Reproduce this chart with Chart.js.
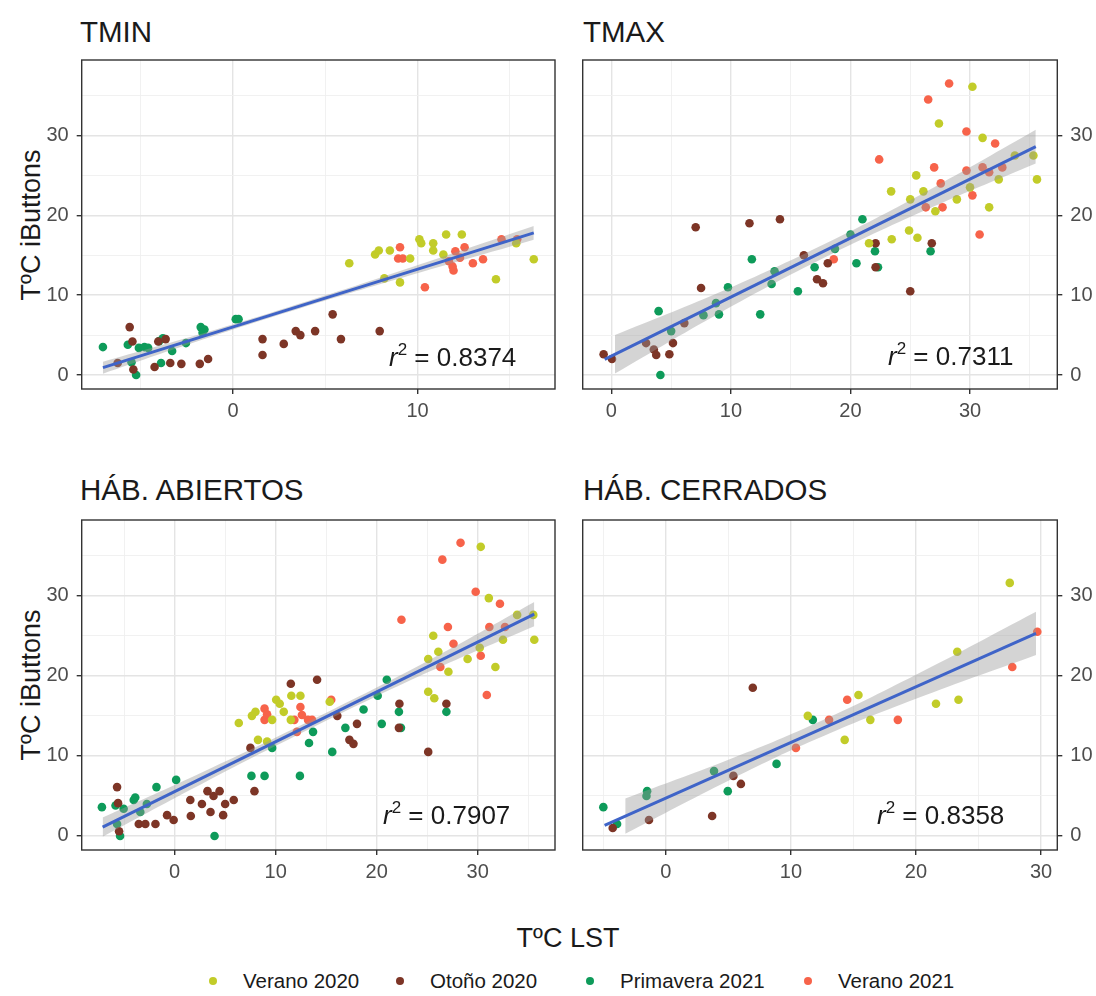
<!DOCTYPE html>
<html>
<head>
<meta charset="utf-8">
<script src="https://cdn.jsdelivr.net/npm/chart.js@4.4.1/dist/chart.umd.min.js"></script>
<style>
  body { margin: 0; background: #fff; }
  #page { position: relative; width: 1096px; height: 996px; overflow: hidden; font-family: "Liberation Sans", Arial, sans-serif; color: #1a1a1a; }
  canvas { position: absolute; }
  .txt { position: absolute; white-space: nowrap; line-height: 1; }
  .ytitle { position: absolute; white-space: nowrap; line-height: 1; font-size: 27px; transform: translate(-50%, -50%) rotate(-90deg); }
  .dot { position: absolute; width: 8px; height: 8px; border-radius: 50%; }
</style>
</head>
<body>
<div id="page">
  <div class="txt" style="left:80px; top:17px; font-size:29.5px;">TMIN</div>
  <div class="txt" style="left:583px; top:17px; font-size:29.5px;">TMAX</div>
  <div class="txt" style="left:80px; top:475px; font-size:29.5px;">HÁB. ABIERTOS</div>
  <div class="txt" style="left:583px; top:475px; font-size:29.5px;">HÁB. CERRADOS</div>

  <div class="ytitle" style="left:31px; top:225px;">TºC iButtons</div>
  <div class="ytitle" style="left:31px; top:685px;">TºC iButtons</div>

  <canvas id="tmin"></canvas>
  <canvas id="tmax"></canvas>
  <canvas id="abiertos"></canvas>
  <canvas id="cerrados"></canvas>

  <div class="txt" id="r2-tmin" style="left:389px; top:344px; font-size:26px;"></div>
  <div class="txt" id="r2-tmax" style="left:888px; top:343px; font-size:26px;"></div>
  <div class="txt" id="r2-abiertos" style="left:383px; top:802px; font-size:26px;"></div>
  <div class="txt" id="r2-cerrados" style="left:877px; top:802px; font-size:26px;"></div>

  <div class="txt" style="left:568px; top:925px; font-size:27px; transform:translateX(-50%);">TºC LST</div>
  <div id="legend"></div>
</div>
<script>
const seasons = ["Verano 2020", "Otoño 2020", "Primavera 2021", "Verano 2021"];
const seasonColors = ["#c2cc29", "#7d3526", "#0e9b5a", "#f7634a"];
const r2Labels = ["0.8374", "0.7311", "0.7907", "0.8358"];

// TMIN
const tminVerano2020 = [[6.3,14.0],[7.7,15.1],[7.9,15.6],[8.5,15.6],[8.2,12.1],[9.05,11.6],[9.6,14.6],[10.1,17.0],[10.2,16.5],[10.85,16.5],[10.85,15.6],[11.4,15.1],[11.55,17.6],[12.4,17.6],[14.25,12.0],[15.35,16.5],[16.3,14.5]];
const tminOtono2020 = [[-5.6,6.0],[-5.45,4.2],[-6.25,1.5],[-5.4,0.7],[-4.25,1.0],[-4.05,4.2],[-3.65,4.5],[-3.4,1.5],[-2.8,1.4],[-1.8,1.4],[-1.35,2.0],[1.6,4.5],[1.6,2.5],[2.75,3.9],[3.4,5.5],[3.65,5.0],[4.45,5.5],[5.4,7.6],[5.85,4.5],[7.95,5.5]];
const tminPrimavera2021 = [[-7.05,3.5],[-5.7,3.8],[-5.1,3.4],[-4.8,3.5],[-4.6,3.4],[-4.0,4.25],[-3.8,4.6],[-3.3,3.0],[-2.55,4.0],[-1.75,6.0],[-1.55,5.7],[-1.65,5.3],[0.15,7.0],[0.3,7.0],[-3.9,1.5],[-5.25,0.0],[-5.5,1.6]];
const tminVerano2021 = [[9.05,16.0],[8.95,14.6],[9.2,14.6],[10.4,11.0],[11.7,14.25],[11.95,13.1],[12.05,15.5],[12.3,14.7],[12.55,16.0],[13.0,14.0],[13.55,14.5],[14.55,17.0],[15.4,17.0],[11.9,13.6]];
const tminFitX = [-7.05, 16.3];
const tminFitY = [0.92, 17.8];
const tminBandX = [-7.05, -2, 3, 8, 16.3];
const tminBandLo = [0.17, 4.17, 7.89, 11.4, 16.95];
const tminBandHi = [1.67, 4.97, 8.49, 12.2, 18.65];

// TMAX
const tmaxVerano2020 = [[21.55,16.5],[23.4,23.0],[23.45,17.0],[24.9,18.1],[25.0,22.0],[25.5,25.0],[25.6,17.2],[26.1,23.0],[27.1,20.5],[27.4,31.5],[28.9,22.0],[30.0,23.5],[30.2,36.1],[31.05,29.7],[31.6,21.0],[32.4,24.5],[33.75,27.5],[35.3,27.5],[35.6,24.5]];
const tmaxOtono2020 = [[-0.65,2.6],[0.05,2.0],[2.9,4.0],[3.55,3.2],[3.75,2.5],[4.85,2.6],[5.15,4.0],[6.1,6.5],[7.05,18.5],[7.5,10.9],[11.55,19.0],[14.1,19.5],[16.1,15.0],[17.2,12.0],[17.7,11.5],[18.1,14.0],[22.1,16.5],[22.1,13.5],[25.0,10.5],[26.8,16.5]];
const tmaxPrimavera2021 = [[3.95,8.0],[4.1,0.0],[5.0,5.5],[7.7,7.5],[8.75,9.0],[9.0,7.6],[9.75,11.0],[11.75,14.5],[12.45,7.6],[13.4,11.4],[13.65,13.0],[15.6,10.5],[17.0,13.5],[18.7,15.8],[20.0,17.6],[20.5,14.0],[21.0,19.5],[22.05,15.5],[22.3,13.5],[26.7,15.5]];
const tmaxVerano2021 = [[18.6,14.5],[22.4,27.0],[26.5,34.5],[27.0,26.0],[27.55,24.0],[27.7,21.0],[26.3,21.0],[28.25,36.5],[29.7,30.5],[29.7,25.6],[30.2,22.5],[30.8,17.6],[31.05,26.0],[31.6,25.4],[32.1,29.0],[32.7,26.0]];
const tmaxFitX = [-0.56, 35.5];
const tmaxFitY = [1.96, 28.6];
const tmaxBandX = [0.3, 9, 18, 27, 35.5];
const tmaxBandLo = [0.2, 7.72, 14.83, 21.13, 26.5];
const tmaxBandHi = [5.0, 10.32, 16.53, 23.53, 30.7];

// HÁB. ABIERTOS
const abiVerano2020 = [[6.35,14.1],[7.65,15.0],[8.0,15.5],[8.25,12.0],[9.15,11.8],[9.65,14.5],[10.05,17.0],[10.4,16.5],[10.8,15.5],[11.55,17.5],[12.45,17.5],[11.5,14.5],[15.35,16.75],[25.1,18.0],[25.1,22.1],[25.6,25.0],[25.7,17.2],[26.1,23.0],[27.1,20.5],[29.0,22.1],[30.2,23.5],[30.3,36.1],[31.1,29.7],[31.75,21.1],[32.5,24.5],[33.9,27.6],[35.5,27.6],[35.6,24.5]];
const abiOtono2020 = [[-5.7,6.1],[-5.6,4.1],[-5.5,0.6],[-3.55,1.5],[-2.9,1.5],[-1.9,1.5],[-0.75,2.6],[-0.1,2.0],[1.55,4.5],[1.6,2.5],[2.7,4.0],[3.25,5.6],[3.55,3.0],[3.85,5.0],[4.45,5.6],[4.8,2.6],[5.0,4.0],[5.85,4.5],[7.5,11.0],[7.9,5.6],[11.5,19.0],[14.1,19.5],[16.1,15.0],[17.3,12.0],[17.7,11.5],[18.05,14.0],[22.25,16.5],[22.2,13.5],[25.1,10.5],[26.9,16.5]];
const abiPrimavera2021 = [[-7.2,3.6],[-5.85,3.8],[-5.7,1.5],[-5.4,0.0],[-5.05,3.4],[-4.05,4.5],[-3.9,4.8],[-3.4,3.0],[-2.75,4.0],[-1.8,6.1],[0.15,7.0],[3.95,0.0],[7.6,7.5],[8.9,7.5],[9.65,11.0],[12.4,7.5],[13.3,11.6],[13.7,13.0],[15.6,10.5],[16.9,13.5],[18.7,15.8],[20.1,17.5],[20.5,14.0],[21.0,19.5],[22.2,15.5],[22.4,13.5],[26.9,15.5]];
const abiVerano2021 = [[8.9,15.9],[8.9,14.5],[9.15,15.2],[11.85,14.5],[12.1,13.0],[12.45,16.1],[12.6,15.1],[13.2,14.5],[13.6,14.5],[15.5,17.0],[22.45,27.0],[26.3,21.1],[26.5,34.5],[27.05,26.1],[27.6,24.0],[28.3,36.6],[29.8,30.5],[30.3,22.5],[30.9,17.6],[31.15,26.1],[32.2,29.0],[32.7,26.1]];
const abiFitX = [-7.13, 35.6];
const abiFitY = [1.1, 27.7];
const abiBandX = [-7.13, 3, 14, 25, 35.6];
const abiBandLo = [-0.1, 6.71, 13.75, 20.4, 26.2];
const abiBandHi = [2.3, 8.11, 14.75, 21.8, 29.2];

// HÁB. CERRADOS
const cerVerano2020 = [[11.35,15.0],[14.3,12.0],[15.4,17.6],[16.35,14.5],[21.6,16.5],[23.3,23.0],[23.4,17.0],[27.5,31.6]];
const cerOtono2020 = [[-4.25,1.0],[-1.35,2.0],[3.7,2.5],[5.4,7.5],[6.0,6.5],[6.95,18.5]];
const cerPrimavera2021 = [[-5.0,3.6],[-3.9,1.5],[-1.5,5.6],[-1.55,5.0],[3.85,8.1],[4.95,5.6],[8.85,9.0],[11.75,14.5]];
const cerVerano2021 = [[10.4,11.0],[13.05,14.5],[14.5,17.0],[18.55,14.5],[27.7,21.1],[29.7,25.5]];
const cerFitX = [-4.9, 29.6];
const cerFitY = [1.33, 25.3];
const cerBandX = [-3.25, 5, 12, 20, 29.6];
const cerBandLo = [0.28, 6.91, 12.07, 17.13, 22.6];
const cerBandHi = [4.68, 9.51, 14.07, 20.13, 28.0];

const FONT = '"Liberation Sans", Arial, sans-serif';
const BLUE = "#3f64c8";
const RIBBON = "rgba(153,153,153,0.42)";
const Y_MIN = -1.75, Y_MAX = 39.45;

function toPoints(pairs) {
  return pairs.map(p => ({ x: p[0], y: p[1] }));
}
function zipXY(xs, ys) {
  return xs.map((x, i) => ({ x: x, y: ys[i] }));
}
function isMajor(ctx) {
  return ctx.tick && ctx.tick.value % 10 === 0;
}

const panelBorder = {
  id: "panelBorder",
  afterDatasetsDraw(chart) {
    const { ctx, chartArea: a } = chart;
    ctx.save();
    ctx.strokeStyle = "#333333";
    ctx.lineWidth = 1.4;
    ctx.strokeRect(a.left, a.top, a.right - a.left, a.bottom - a.top);
    ctx.restore();
  }
};

function axisOpts(min, max, position, size) {
  const horiz = position === "bottom";
  return {
    type: "linear",
    position: position,
    min: min,
    max: max,
    border: { display: false },
    grid: {
      color: c => isMajor(c) ? "#e4e4e4" : "#efefef",
      lineWidth: c => isMajor(c) ? 1.4 : 0.9,
      tickColor: c => isMajor(c) ? "#333333" : "rgba(0,0,0,0)",
      tickWidth: 1.4,
      tickLength: 5
    },
    ticks: {
      stepSize: 5,
      includeBounds: false,
      autoSkip: false,
      maxRotation: 0,
      padding: horiz ? 5 : 8,
      color: "#4d4d4d",
      font: { family: FONT, size: 20 },
      callback: v => v % 10 === 0 ? String(v) : ""
    },
    afterFit: scale => {
      if (horiz) scale.height = size; else scale.width = size;
      // labels sit well inside the panel, so no extra room is needed
      scale.paddingTop = 0;
      scale.paddingBottom = 0;
      scale.paddingLeft = 0;
      scale.paddingRight = 0;
    }
  };
}

function makePanel(id, geom, groups, fitX, fitY, bandX, bandLo, bandHi) {
  const canvas = document.getElementById(id);
  const cTop = geom.top - 12;
  const xAxisH = 46;
  const cHeight = geom.bottom - geom.top + 12 + xAxisH;
  canvas.width = geom.cRight - geom.cLeft;
  canvas.height = cHeight;
  canvas.style.left = geom.cLeft + "px";
  canvas.style.top = cTop + "px";

  const right = geom.yPos === "right";
  const yWidth = right ? geom.cRight - geom.right : geom.left - geom.cLeft;
  const padding = right
    ? { left: geom.left - geom.cLeft, right: 0, top: 12, bottom: 0 }
    : { left: 0, right: geom.cRight - geom.right, top: 12, bottom: 0 };

  const datasets = [
    { type: "line", data: zipXY(fitX, fitY), borderColor: BLUE, borderWidth: 3, pointRadius: 0, fill: false, order: 0 },
    { type: "line", data: zipXY(bandX, bandHi), borderColor: "rgba(0,0,0,0)", borderWidth: 0, pointRadius: 0, tension: 0.4, fill: "+1", backgroundColor: RIBBON, order: 1 },
    { type: "line", data: zipXY(bandX, bandLo), borderColor: "rgba(0,0,0,0)", borderWidth: 0, pointRadius: 0, tension: 0.4, fill: false, order: 2 }
  ];
  groups.forEach((g, i) => {
    datasets.push({
      type: "scatter",
      label: seasons[i],
      data: toPoints(g),
      backgroundColor: seasonColors[i],
      borderWidth: 0,
      pointRadius: 4.3,
      order: 10 + i
    });
  });

  return new Chart(canvas, {
    type: "scatter",
    data: { datasets: datasets },
    options: {
      responsive: false,
      animation: false,
      devicePixelRatio: 1,
      events: [],
      layout: { padding: padding },
      plugins: { legend: { display: false }, tooltip: { enabled: false } },
      scales: {
        x: axisOpts(geom.xMin, geom.xMax, "bottom", xAxisH),
        y: axisOpts(Y_MIN, Y_MAX, geom.yPos, yWidth)
      }
    },
    plugins: [panelBorder]
  });
}

makePanel("tmin",
  { cLeft: 0, cRight: 568, left: 81.7, right: 555, top: 60, bottom: 389.3, xMin: -8.2, xMax: 17.45, yPos: "left" },
  [tminVerano2020, tminOtono2020, tminPrimavera2021, tminVerano2021],
  tminFitX, tminFitY, tminBandX, tminBandLo, tminBandHi);

makePanel("tmax",
  { cLeft: 568, cRight: 1096, left: 582.7, right: 1057.3, top: 60, bottom: 389.3, xMin: -2.4, xMax: 37.3, yPos: "right" },
  [tmaxVerano2020, tmaxOtono2020, tmaxPrimavera2021, tmaxVerano2021],
  tmaxFitX, tmaxFitY, tmaxBandX, tmaxBandLo, tmaxBandHi);

makePanel("abiertos",
  { cLeft: 0, cRight: 568, left: 81.7, right: 555, top: 520, bottom: 850, xMin: -9.2, xMax: 37.65, yPos: "left" },
  [abiVerano2020, abiOtono2020, abiPrimavera2021, abiVerano2021],
  abiFitX, abiFitY, abiBandX, abiBandLo, abiBandHi);

makePanel("cerrados",
  { cLeft: 568, cRight: 1096, left: 582.7, right: 1057.3, top: 520, bottom: 850, xMin: -6.65, xMax: 31.3, yPos: "right" },
  [cerVerano2020, cerOtono2020, cerPrimavera2021, cerVerano2021],
  cerFitX, cerFitY, cerBandX, cerBandLo, cerBandHi);

// r² labels
["r2-tmin", "r2-tmax", "r2-abiertos", "r2-cerrados"].forEach((id, i) => {
  document.getElementById(id).innerHTML =
    '<span style="font-style:italic">r</span><span style="font-size:17px;position:relative;top:-11px">2</span> = ' + r2Labels[i];
});

// legend
const legendDotX = [213, 400, 590, 808];
const legend = document.getElementById("legend");
seasons.forEach((name, i) => {
  const dot = document.createElement("div");
  dot.className = "dot";
  dot.style.background = seasonColors[i];
  dot.style.left = (legendDotX[i] - 4) + "px";
  dot.style.top = (981 - 4) + "px";
  legend.appendChild(dot);
  const label = document.createElement("div");
  label.className = "txt";
  label.style.left = (legendDotX[i] + 30) + "px";
  label.style.top = "971px";
  label.style.fontSize = "20.5px";
  label.textContent = name;
  legend.appendChild(label);
});
</script>
</body>
</html>
